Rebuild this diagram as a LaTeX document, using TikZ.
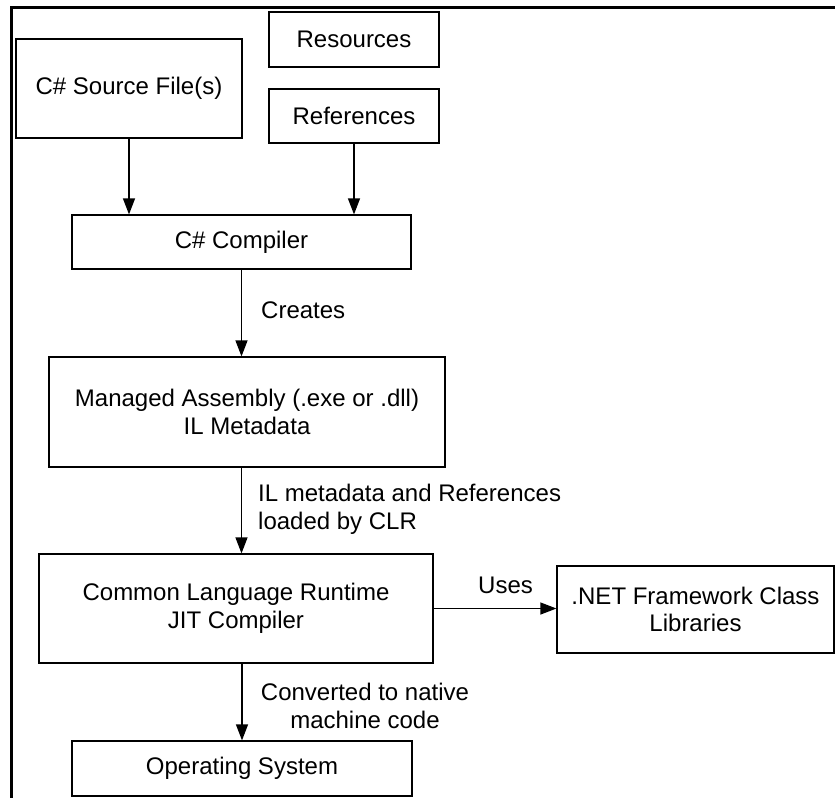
\documentclass[tikz,border=0pt]{standalone}
\usepackage{fontspec}
\setmainfont{Liberation Sans}
\usetikzlibrary{arrows.meta}
\begin{document}
\begin{tikzpicture}[x=1pt,y=-1pt,
  txt/.style={font=\fontsize{24}{27.5}\selectfont},
  box/.style={txt, draw=black, line width=1.2pt, inner sep=0pt, align=center},
  lbl/.style={txt, inner sep=0pt},
  arr/.style={line width=1.2pt, -{Triangle[length=16pt,width=12pt]}},
  frame/.style={line width=3.4pt}]
\useasboundingbox (0,0) rectangle (835,798);
% frame
\coordinate (ftr) at (835,7.5);
\coordinate (ftl) at (11.5,7.5);
\coordinate (fbl) at (11.5,798);
\draw[frame] (ftr) -- (ftl) -- (fbl);
% boxes
\node[box, minimum width=226pt, minimum height=99pt] (src) at (129,88.5) {C\# Source File(s)};
\node[box, minimum width=170pt, minimum height=55pt] (res) at (354,39.5) {Resources};
\node[box, minimum width=170pt, minimum height=54pt] (refs) at (354,116) {References};
\node[box, minimum width=339pt, minimum height=54pt] (comp) at (241.5,242) {C\# Compiler};
\node[box, minimum width=396pt, minimum height=110pt] (asm) at (247,412) {Managed Assembly (.exe or .dll)\\IL Metadata};
\node[box, minimum width=394pt, minimum height=109pt] (clr) at (236,608.5) {Common Language Runtime\\JIT Compiler};
\node[box, minimum width=277pt, minimum height=87pt] (net) at (695.5,609.5) {.NET Framework Class\\Libraries};
\node[box, minimum width=340pt, minimum height=55pt] (os) at (242,768.5) {Operating System};
% connectors
\draw[arr] (src.south) -- (src.south |- comp.north);
\draw[arr] (refs.south) -- (refs.south |- comp.north);
\draw[arr] (comp.south) -- (comp.south |- asm.north);
\draw[arr] (comp.south |- asm.south) -- (comp.south |- clr.north);
\draw[arr] (clr.south -| os.north) -- (os.north);
\draw[arr] (clr.east) -- (clr.east -| net.west);
% labels
\node[lbl, anchor=base west] (lcreates) at (261,318) {Creates};
\node[lbl, anchor=west, align=left] (lil) at (258,509.5) {IL metadata and References\\loaded by CLR};
\node[lbl, anchor=base west] (luses) at (478,593) {Uses};
\node[lbl, align=center] (lconv) at (365,706) {Converted to native\\machine code};
\end{tikzpicture}
\end{document}
